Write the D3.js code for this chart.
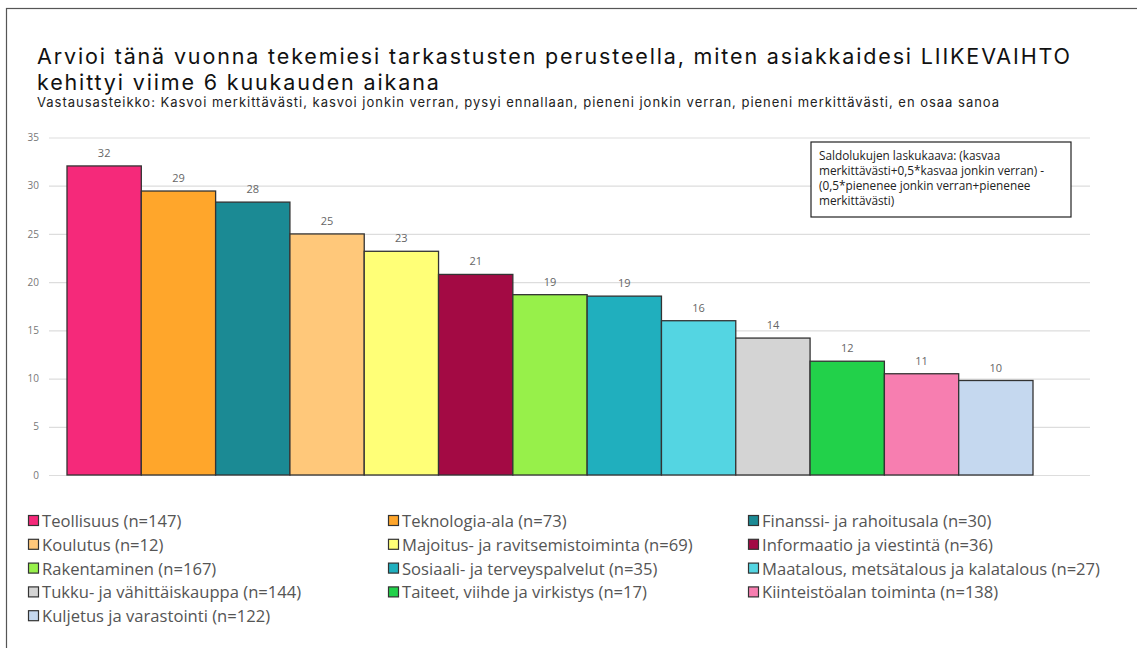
<!DOCTYPE html>
<html>
<head>
<meta charset="utf-8">
<script src="https://cdn.jsdelivr.net/npm/d3@7"></script>
<style>
  body { margin: 0; background: #fff; }
  text { font-family: 'Open Sans', sans-serif; }
</style>
</head>
<body>
<script>
var W = 1137, H = 648;

var categories = [
  'Teollisuus', 'Teknologia-ala', 'Finanssi- ja rahoitusala', 'Koulutus',
  'Majoitus- ja ravitsemistoiminta', 'Informaatio ja viestintä', 'Rakentaminen',
  'Sosiaali- ja terveyspalvelut', 'Maatalous, metsätalous ja kalatalous',
  'Tukku- ja vähittäiskauppa', 'Taiteet, viihde ja virkistys',
  'Kiinteistöalan toiminta', 'Kuljetus ja varastointi'
];
var counts = [147, 73, 30, 12, 69, 36, 167, 35, 27, 144, 17, 138, 122];
var values = [32.05, 29.45, 28.3, 25.0, 23.2, 20.8, 18.7, 18.55, 16.0, 14.2, 11.8, 10.5, 9.8];
var colors = [
  '#f5297a', '#ffa62b', '#1b8a94', '#ffc87a', '#ffff77', '#a30a44', '#97f04a',
  '#20afbe', '#54d5e2', '#d4d4d4', '#22d14a', '#f77eb0', '#c5d8ef'
];
var yTicks = [0, 5, 10, 15, 20, 25, 30, 35];

var title1 = 'Arvioi tänä vuonna tekemiesi tarkastusten perusteella, miten asiakkaidesi LIIKEVAIHTO';
var title2 = 'kehittyi viime 6 kuukauden aikana';
var subtitle = 'Vastausasteikko: Kasvoi merkittävästi, kasvoi jonkin verran, pysyi ennallaan, pieneni jonkin verran, pieneni merkittävästi, en osaa sanoa';
var noteLines = [
  'Saldolukujen laskukaava: (kasvaa',
  'merkittävästi+0,5*kasvaa jonkin verran) -',
  '(0,5*pienenee jonkin verran+pienenee',
  'merkittävästi)'
];

var svg = d3.select('body').append('svg')
  .attr('width', W)
  .attr('height', H);

// outer frame
svg.append('rect')
  .attr('x', 6.5).attr('y', 8.5)
  .attr('width', W + 10).attr('height', H + 10)
  .attr('fill', 'none')
  .attr('stroke', '#555')
  .attr('stroke-width', 1.2);

// stretch a text to a target width with letter spacing
function spreadText(sel, targetW) {
  var len = sel.node().getComputedTextLength();
  var n = sel.text().length - 1;
  var ls = (targetW - len) / n;
  sel.attr('letter-spacing', ls.toFixed(3));
  return ls;
}

var t1 = svg.append('text').attr('x', 37).attr('y', 64)
  .attr('font-size', 21.5).style('font-family', 'Inter, sans-serif')
  .attr('fill', '#111').text(title1);
var ls = spreadText(t1, 1033);
svg.append('text').attr('x', 37).attr('y', 90)
  .attr('font-size', 21.5).style('font-family', 'Inter, sans-serif')
  .attr('letter-spacing', ls.toFixed(3))
  .attr('fill', '#111').text(title2);
var st = svg.append('text').attr('x', 37).attr('y', 107)
  .attr('font-size', 13).style('font-family', 'Inter, sans-serif')
  .attr('fill', '#222').text(subtitle);
spreadText(st, 962);

// scales
var x = d3.scaleBand()
  .domain(d3.range(categories.length))
  .range([67, 1033])
  .padding(0);

var y = d3.scaleLinear()
  .domain([0, 35])
  .range([475, 137.5]);

// gridlines + tick labels
var yAxis = svg.append('g')
  .attr('transform', 'translate(49,0)')
  .call(d3.axisLeft(y).tickValues(yTicks).tickSize(-1041).tickPadding(10));
yAxis.select('.domain').remove();
yAxis.selectAll('.tick line').attr('stroke', '#ddd').attr('stroke-width', 1.2);
yAxis.selectAll('.tick text')
  .attr('fill', '#777')
  .style('font-size', '10px')
  .style('font-family', "'Open Sans', sans-serif");

// bars
svg.append('g').selectAll('rect')
  .data(values)
  .enter().append('rect')
    .attr('x', function(d, i) { return x(i); })
    .attr('y', function(d) { return y(d); })
    .attr('width', x.bandwidth())
    .attr('height', function(d) { return y(0) - y(d); })
    .attr('fill', function(d, i) { return colors[i]; })
    .attr('stroke', '#333')
    .attr('stroke-width', 1.3);

// value labels
svg.append('g').selectAll('text')
  .data(values)
  .enter().append('text')
    .attr('x', function(d, i) { return x(i) + x.bandwidth() / 2; })
    .attr('y', function(d) { return y(d) - 9; })
    .attr('text-anchor', 'middle')
    .attr('font-size', 11)
    .attr('fill', '#666')
    .text(function(d) { return Math.round(d); });

// note box (one text block, lines as tspans)
var note = svg.append('g');
note.append('rect')
  .attr('x', 811).attr('y', 142)
  .attr('width', 260).attr('height', 75)
  .attr('fill', '#fff')
  .attr('stroke', '#222')
  .attr('stroke-width', 1.2);
note.append('text')
  .attr('x', 819)
  .attr('y', 159.5)
  .attr('font-size', 11.8)
  .attr('fill', '#222')
  .selectAll('tspan')
  .data(noteLines)
  .enter().append('tspan')
    .attr('x', 819)
    .attr('dy', function(d, i) { return i ? 15 : 0; })
    .text(function(d) { return d; });

// legend
var colX = [28, 388, 748];
var legend = svg.append('g').selectAll('g')
  .data(categories)
  .enter().append('g')
    .attr('transform', function(d, i) {
      return 'translate(' + colX[i % 3] + ',' + (521 + Math.floor(i / 3) * 23.8) + ')';
    });
legend.append('rect')
  .attr('x', 0.5).attr('y', -5.5)
  .attr('width', 10).attr('height', 10)
  .attr('fill', function(d, i) { return colors[i]; })
  .attr('stroke', '#333')
  .attr('stroke-width', 1.2);
legend.append('text')
  .attr('x', 14)
  .attr('y', 6)
  .attr('font-size', 16.6)
  .attr('fill', '#555')
  .text(function(d, i) { return d + ' (n=' + counts[i] + ')'; });
</script>
</body>
</html>
